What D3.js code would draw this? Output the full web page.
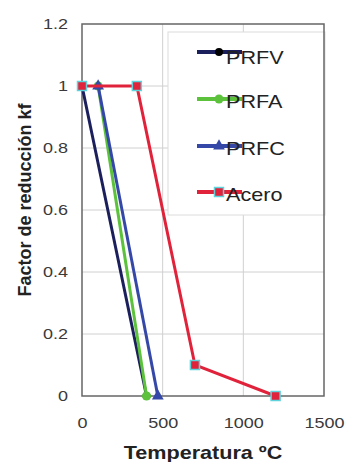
<!DOCTYPE html>
<html>
<head>
<meta charset="utf-8">
<script src="https://cdn.jsdelivr.net/npm/d3@7"></script>
<style>
  body { margin: 0; background: #fff; }
  svg { display: block; font-family: "Liberation Sans", Arial, sans-serif; }
</style>
</head>
<body>
<svg id="chart"></svg>
<script>
// chart values
var seriesNames = ["PRFV", "PRFA", "PRFC", "Acero"];
var prfvT = [0, 400],        prfvK = [1, 0];
var prfaT = [100, 400],      prfaK = [1, 0];
var prfcT = [100, 470],      prfcK = [1, 0];
var aceroT = [0, 340, 700, 1200], aceroK = [1, 1, 0.1, 0];
var xTicks = [0, 500, 1000, 1500];
var yTicks = [0, 0.2, 0.4, 0.6, 0.8, 1, 1.2];

var screenWidth = 345,
    screenHeight = 462,
    margin = {top: 24, left: 82, right: 21, bottom: 66},
    canvasWidth = screenWidth - margin.left - margin.right,
    canvasHeight = screenHeight - margin.top - margin.bottom,
    sx = 1.2; // the picture is a bit stretched sideways

var colors = {PRFV: "#1b1f5c", PRFA: "#5cc23c", PRFC: "#3548a8", Acero: "#e0223a"};

var series = [
  {name: "PRFV",  pts: prfvT.map(function(t, i) { return {t: t, k: prfvK[i]}; })},
  {name: "PRFA",  pts: prfaT.map(function(t, i) { return {t: t, k: prfaK[i]}; })},
  {name: "PRFC",  pts: prfcT.map(function(t, i) { return {t: t, k: prfcK[i]}; })},
  {name: "Acero", pts: aceroT.map(function(t, i) { return {t: t, k: aceroK[i]}; })}
];

var xScale = d3.scaleLinear().domain([0, 1500]).range([0, canvasWidth]),
    yScale = d3.scaleLinear().domain([0, 1.2]).range([canvasHeight, 0]);

var svg = d3.select("#chart")
            .attr("width", screenWidth)
            .attr("height", screenHeight);

var g = svg.append("g")
           .attr("transform", "translate(" + margin.left + "," + margin.top + ")");

// grid
g.selectAll(".hgrid")
 .data(yTicks.filter(function(d) { return d > 0 && d < 1.2; }))
 .enter().append("line")
 .attr("x1", 0).attr("x2", canvasWidth)
 .attr("y1", function(d) { return yScale(d); })
 .attr("y2", function(d) { return yScale(d); })
 .attr("stroke", "#d0d0d0").attr("stroke-width", 1);

g.selectAll(".vgrid")
 .data(xTicks.filter(function(d) { return d > 0 && d < 1500; }))
 .enter().append("line")
 .attr("x1", function(d) { return xScale(d); })
 .attr("x2", function(d) { return xScale(d); })
 .attr("y1", 0).attr("y2", canvasHeight)
 .attr("stroke", "#d0d0d0").attr("stroke-width", 1);

// legend box (drawn under the lines)
var legX = 168 - margin.left, legY = 32 - margin.top;
g.append("rect")
 .attr("x", legX).attr("y", legY)
 .attr("width", canvasWidth - legX + 1).attr("height", 183)
 .attr("fill", "#fff").attr("stroke", "#dcdcdc").attr("stroke-width", 1);

// frame
g.append("rect")
 .attr("x", 0).attr("y", 0)
 .attr("width", canvasWidth).attr("height", canvasHeight)
 .attr("fill", "none").attr("stroke", "#666").attr("stroke-width", 1.5);

// axes, text only
var yAxis = d3.axisLeft(yScale).tickValues(yTicks).tickSize(0).tickPadding(0)
              .tickFormat(function(d) { return d === 1 ? "1" : d === 0 ? "0" : d3.format(".1f")(d); });
var yg = g.append("g").call(yAxis);
yg.select(".domain").remove();
yg.selectAll("text")
  .attr("x", -14 / sx)
  .attr("transform", "scale(" + sx + ",1)")
  .style("font-size", "15px")
  .style("font-family", "Liberation Sans, Arial, sans-serif")
  .attr("fill", "#3a3a3a");

var xAxis = d3.axisBottom(xScale).tickValues(xTicks).tickSize(0).tickPadding(0)
              .tickFormat(d3.format("d"));
var xg = g.append("g").attr("transform", "translate(0," + canvasHeight + ")").call(xAxis);
xg.select(".domain").remove();
xg.selectAll(".tick text")
  .attr("y", 27)
  .attr("dy", "0.32em")
  .attr("transform", "scale(" + sx + ",1)")
  .style("font-size", "15px")
  .style("font-family", "Liberation Sans, Arial, sans-serif")
  .attr("fill", "#3a3a3a");

// lines
var line = d3.line()
             .x(function(d) { return xScale(d.t); })
             .y(function(d) { return yScale(d.k); });

function drawMarker(sel, name, x, y) {
  if (name === "PRFV") {
    sel.append("circle").attr("cx", x).attr("cy", y).attr("r", 4).attr("fill", "#000");
  } else if (name === "PRFA") {
    sel.append("circle").attr("cx", x).attr("cy", y).attr("r", 4.5).attr("fill", colors.PRFA);
  } else if (name === "PRFC") {
    sel.append("path")
       .attr("d", d3.symbol().type(d3.symbolTriangle).size(60)())
       .attr("transform", "translate(" + x + "," + y + ")")
       .attr("fill", colors.PRFC);
  } else {
    sel.append("rect").attr("x", x - 4.5).attr("y", y - 4.5)
       .attr("width", 9).attr("height", 9)
       .attr("fill", colors.Acero).attr("stroke", "#5fd3dc").attr("stroke-width", 1.5);
  }
}

series.forEach(function(s) {
  var sg = g.append("g");
  sg.append("path")
    .datum(s.pts)
    .attr("d", line)
    .attr("fill", "none")
    .attr("stroke", colors[s.name])
    .attr("stroke-width", 3);
  s.pts.forEach(function(p) {
    drawMarker(sg, s.name, xScale(p.t), yScale(p.k));
  });
});

// legend entries
var legRows = [52, 99, 146, 192];
seriesNames.forEach(function(name, i) {
  var y = legRows[i] - margin.top;
  var lg = g.append("g");
  lg.append("line")
    .attr("x1", 197 - margin.left).attr("x2", 242 - margin.left)
    .attr("y1", y).attr("y2", y)
    .attr("stroke", colors[name]).attr("stroke-width", 4);
  drawMarker(lg, name, 219 - margin.left, y);
  lg.append("text")
    .attr("x", (226 - margin.left) / sx)
    .attr("y", y + (i === 0 ? 12 : 9))
    .attr("transform", "scale(" + sx + ",1)")
    .style("font-size", "18px")
    .attr("fill", "#222")
    .text(name);
});

// axis titles
svg.append("text")
   .attr("transform", "translate(31," + (margin.top + canvasHeight / 2 - 10) + ") rotate(-90)")
   .style("text-anchor", "middle")
   .style("font-size", "18px")
   .style("font-weight", "bold")
   .attr("fill", "#222")
   .text("Factor de reducción kf");

svg.append("text")
   .attr("transform", "translate(" + (margin.left + canvasWidth / 2) + ",459) scale(" + sx + ",1)")
   .style("text-anchor", "middle")
   .style("font-size", "18px")
   .style("font-weight", "bold")
   .attr("fill", "#222")
   .text("Temperatura ºC");
</script>
</body>
</html>
